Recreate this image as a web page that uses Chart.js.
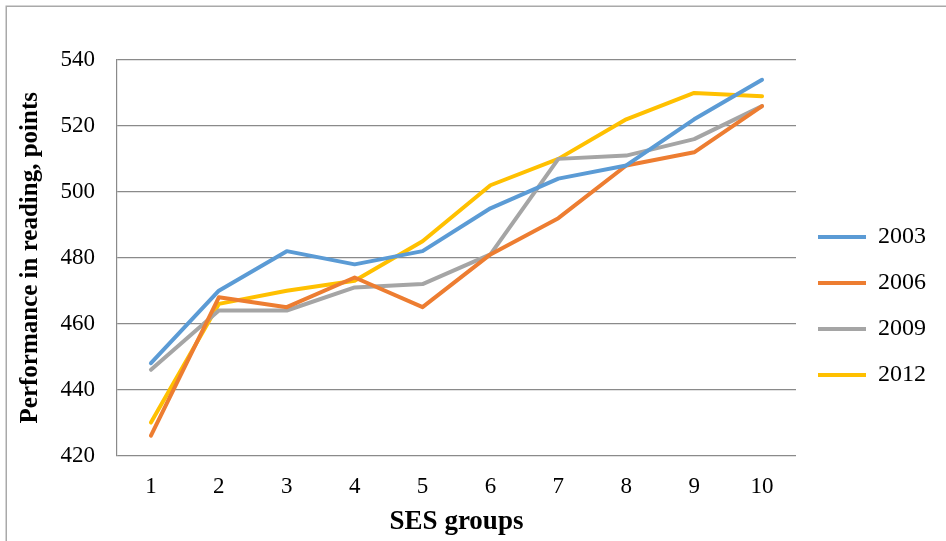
<!DOCTYPE html>
<html>
<head>
<meta charset="utf-8">
<script src="https://cdn.jsdelivr.net/npm/chart.js@4/dist/chart.umd.min.js"></script>
<style>
  html, body { margin: 0; padding: 0; background: #fff; }
  canvas { display: block; }
</style>
</head>
<body>
<canvas id="c" width="946" height="541"></canvas>
<script>
const categories = ['1', '2', '3', '4', '5', '6', '7', '8', '9', '10'];
const seriesNames = ['2003', '2006', '2009', '2012'];
const y2003 = [448, 470, 482, 478, 482, 495, 504, 508, 522, 534];
const y2006 = [426, 468, 465, 474, 465, 481, 492, 508, 512, 526];
const y2009 = [446, 464, 464, 471, 472, 481, 510, 511, 516, 526];
const y2012 = [430, 466, 470, 473, 485, 502, 510, 522, 530, 529];
const yMin = 420, yMax = 540, yStep = 20;
const colors = ['#5B9BD5', '#ED7D31', '#A5A5A5', '#FFC000'];

const FONT = '"Liberation Serif", "Times New Roman", serif';

const frame = {
  id: 'frame',
  beforeDraw(chart) {
    const ctx = chart.ctx;
    ctx.save();
    ctx.fillStyle = '#ffffff';
    ctx.fillRect(0, 0, chart.width, chart.height);
    ctx.strokeStyle = '#a9a9a9';
    ctx.lineWidth = 1.5;
    ctx.beginPath();
    ctx.moveTo(6.25, chart.height);
    ctx.lineTo(6.25, 6.25);
    ctx.lineTo(chart.width, 6.25);
    ctx.stroke();
    ctx.restore();
  }
};

const allSeries = [y2003, y2006, y2009, y2012];
const datasets = allSeries.map((d, i) => ({
  label: seriesNames[i],
  data: d,
  borderColor: colors[i],
  backgroundColor: colors[i],
  borderWidth: 4,
  borderCapStyle: 'round',
  borderJoinStyle: 'round',
  pointRadius: 0,
  pointHoverRadius: 0,
  tension: 0,
  fill: false
}));

new Chart(document.getElementById('c'), {
  type: 'line',
  data: { labels: categories, datasets },
  plugins: [frame],
  options: {
    responsive: false,
    animation: false,
    events: [],
    layout: { padding: { top: 60, left: 10, right: 10, bottom: 3 } },
    plugins: {
      tooltip: { enabled: false },
      legend: {
        position: 'right',
        align: 'center',
        title: { display: true, text: '', font: { size: 10, lineHeight: 1.2 }, padding: { top: 2, bottom: 0 } },
        labels: {
          usePointStyle: true,
          pointStyle: 'line',
          pointStyleWidth: 48,
          boxHeight: 24,
          padding: 22,
          color: '#000',
          font: { family: FONT, size: 24 }
        }
      }
    },
    scales: {
      x: {
        offset: true,
        grid: { display: false, drawTicks: false },
        border: { display: false },
        ticks: { color: '#000', padding: 18, font: { family: FONT, size: 23 }, maxRotation: 0 },
        title: { display: true, text: 'SES groups', color: '#000', padding: { top: -13.5, bottom: 0 },
                 font: { family: FONT, size: 27, weight: 'bold', lineHeight: 1.2 } }
      },
      y: {
        min: yMin, max: yMax,
        grid: { color: '#8a8a8a', lineWidth: 1.2, drawTicks: false },
        border: { display: true, color: '#8a8a8a', width: 1.2 },
        ticks: { stepSize: yStep, color: '#000', padding: 22, font: { family: FONT, size: 23 } },
        title: { display: true, text: 'Performance in reading, points', color: '#000', padding: { top: 6, bottom: -7.5 },
                 font: { family: FONT, size: 25, weight: 'bold', lineHeight: 1.2 } }
      }
    }
  }
});
</script>
</body>
</html>
